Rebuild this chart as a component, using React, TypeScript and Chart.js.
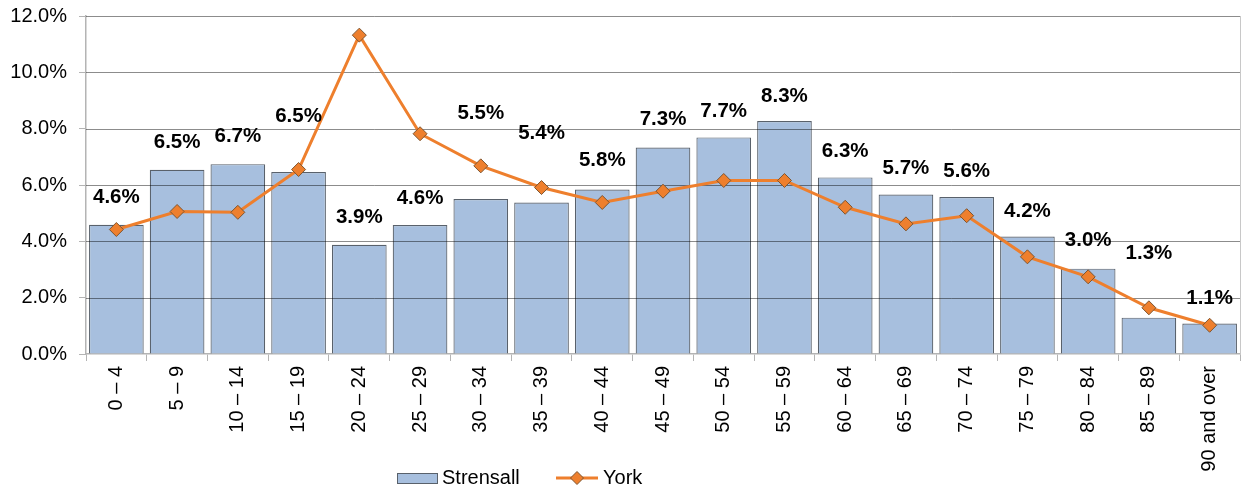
import React, { useEffect, useRef } from "react";
import { Chart, registerables } from "chart.js";

Chart.register(...registerables);

const categories = [
  "0 – 4", "5 – 9", "10 – 14", "15 – 19", "20 – 24", "25 – 29", "30 – 34",
  "35 – 39", "40 – 44", "45 – 49", "50 – 54", "55 – 59", "60 – 64", "65 – 69",
  "70 – 74", "75 – 79", "80 – 84", "85 – 89", "90 and over",
];

const strensall = [
  4.59, 6.54, 6.74, 6.46, 3.88, 4.58, 5.5, 5.38, 5.84, 7.33, 7.69, 8.27,
  6.27, 5.66, 5.57, 4.17, 3.03, 1.29, 1.08,
];

const york = [
  4.42, 5.06, 5.03, 6.55, 11.32, 7.82, 6.68, 5.91, 5.38, 5.78, 6.16, 6.16,
  5.21, 4.62, 4.91, 3.45, 2.74, 1.64, 1.02,
];

const yTicks = [0, 2, 4, 6, 8, 10, 12];

// pixel lift of each data label above its bar top (label layout, not data)
const labelLift = [
  27, 27, 28, 56, 27, 27, 86, 69, 29, 28, 26, 25, 26, 26, 26, 25, 28, 64, 25,
];

const FONT = "'Liberation Sans', Arial, sans-serif";
const BAR_FILL = "#A7BFDE";
const BAR_BORDER = "#59616B";
const LINE_COLOR = "#EE7F2D";
const MARKER_BORDER = "#7E5530";
const AXIS_GRAY = "#B4B4B4";

export default function App() {
  const ref = useRef<HTMLCanvasElement | null>(null);

  useEffect(() => {
    document.body.style.margin = "0";
    const canvas = ref.current;
    if (!canvas) return;

    const gridOverBars = {
      id: "gridOverBars",
      afterDatasetDraw(chart: any, args: any) {
        if (args.index !== 0) return;
        const { ctx, chartArea, scales } = chart;
        ctx.save();
        ctx.strokeStyle = "rgba(0,0,0,0.45)";
        ctx.lineWidth = 1;
        yTicks.forEach((t) => {
          if (t === 0) return;
          const y = Math.round(scales.y.getPixelForValue(t)) + 0.5;
          ctx.beginPath();
          ctx.moveTo(chartArea.left, y);
          ctx.lineTo(chartArea.right, y);
          ctx.stroke();
        });
        ctx.strokeStyle = "#C8C8C8";
        const rx = Math.round(chartArea.right) + 0.5;
        ctx.beginPath();
        ctx.moveTo(rx, chartArea.top);
        ctx.lineTo(rx, chartArea.bottom);
        ctx.stroke();
        ctx.restore();
      },
    };

    const dataLabels = {
      id: "dataLabels",
      afterDatasetsDraw(chart: any) {
        const { ctx } = chart;
        const meta = chart.getDatasetMeta(0);
        ctx.save();
        ctx.font = `bold 20.5px ${FONT}`;
        ctx.fillStyle = "#000";
        ctx.textAlign = "center";
        ctx.textBaseline = "middle";
        meta.data.forEach((el: any, i: number) => {
          ctx.fillText(strensall[i].toFixed(1) + "%", el.x, el.y - labelLift[i]);
        });
        ctx.restore();
      },
    };

    const customLegend = {
      id: "customLegend",
      afterDraw(chart: any) {
        const { ctx } = chart;
        const cy = 478;
        ctx.save();
        ctx.font = `20px ${FONT}`;
        ctx.fillStyle = "#000";
        ctx.textBaseline = "middle";
        ctx.textAlign = "left";
        // bar item
        ctx.fillStyle = BAR_FILL;
        ctx.fillRect(397, 473, 40, 10);
        ctx.strokeStyle = BAR_BORDER;
        ctx.lineWidth = 1;
        ctx.strokeRect(397.5, 473.5, 40, 10);
        ctx.fillStyle = "#000";
        ctx.fillText(chart.data.datasets[0].label, 442, cy);
        // line item
        ctx.strokeStyle = LINE_COLOR;
        ctx.lineWidth = 3;
        ctx.beginPath();
        ctx.moveTo(556, cy);
        ctx.lineTo(598, cy);
        ctx.stroke();
        const r = 6.5;
        ctx.beginPath();
        ctx.moveTo(577, cy - r);
        ctx.lineTo(577 + r, cy);
        ctx.lineTo(577, cy + r);
        ctx.lineTo(577 - r, cy);
        ctx.closePath();
        ctx.fillStyle = LINE_COLOR;
        ctx.fill();
        ctx.strokeStyle = MARKER_BORDER;
        ctx.lineWidth = 1;
        ctx.stroke();
        ctx.fillStyle = "#000";
        ctx.fillText(chart.data.datasets[1].label, 603, cy);
        ctx.restore();
      },
    };

    const chart = new Chart(canvas, {
      type: "bar",
      data: {
        labels: categories,
        datasets: [
          {
            type: "bar",
            label: "Strensall",
            data: strensall,
            backgroundColor: BAR_FILL,
            borderColor: BAR_BORDER,
            borderWidth: 1.2,
            barPercentage: 0.9,
            categoryPercentage: 1,
            order: 2,
          },
          {
            type: "line",
            label: "York",
            data: york,
            borderColor: LINE_COLOR,
            borderWidth: 3,
            pointStyle: "rectRot",
            pointRadius: 7,
            pointBackgroundColor: LINE_COLOR,
            pointBorderColor: MARKER_BORDER,
            pointBorderWidth: 1,
            tension: 0,
            order: 1,
          } as any,
        ],
      },
      options: {
        animation: false,
        responsive: false,
        maintainAspectRatio: false,
        layout: { padding: { top: 16, right: 3, left: 0, bottom: 0 } },
        plugins: {
          legend: { display: false },
          tooltip: { enabled: false },
        },
        scales: {
          x: {
            offset: true,
            grid: {
              offset: true,
              drawOnChartArea: false,
              drawTicks: true,
              tickLength: 7,
              color: AXIS_GRAY,
            },
            border: { color: AXIS_GRAY, width: 1.5 },
            ticks: {
              autoSkip: false,
              minRotation: 90,
              maxRotation: 90,
              padding: 5,
              color: "#000",
              font: { family: FONT, size: 20 },
            },
            afterFit(scale: any) {
              scale.height = 134;
              scale.paddingLeft = 0;
              scale.paddingRight = 0;
            },
          },
          y: {
            min: 0,
            max: 12,
            afterBuildTicks(scale: any) {
              scale.ticks = yTicks.map((v) => ({ value: v }));
            },
            grid: {
              drawOnChartArea: false,
              drawTicks: true,
              tickLength: 7,
              color: AXIS_GRAY,
            },
            border: { color: AXIS_GRAY, width: 1.5 },
            ticks: {
              padding: 12,
              color: "#000",
              font: { family: FONT, size: 20 },
              callback: (v: any) => Number(v).toFixed(1) + "%",
            },
            afterFit(scale: any) {
              scale.width = 86;
              scale.paddingTop = 0;
              scale.paddingBottom = 0;
            },
          },
        },
      },
      plugins: [gridOverBars, dataLabels, customLegend],
    });

    return () => chart.destroy();
  }, []);

  return (
    <div style={{ width: 1248, height: 488 }}>
      <canvas ref={ref} width={1248} height={488} style={{ width: 1248, height: 488, display: "block" }} />
    </div>
  );
}
